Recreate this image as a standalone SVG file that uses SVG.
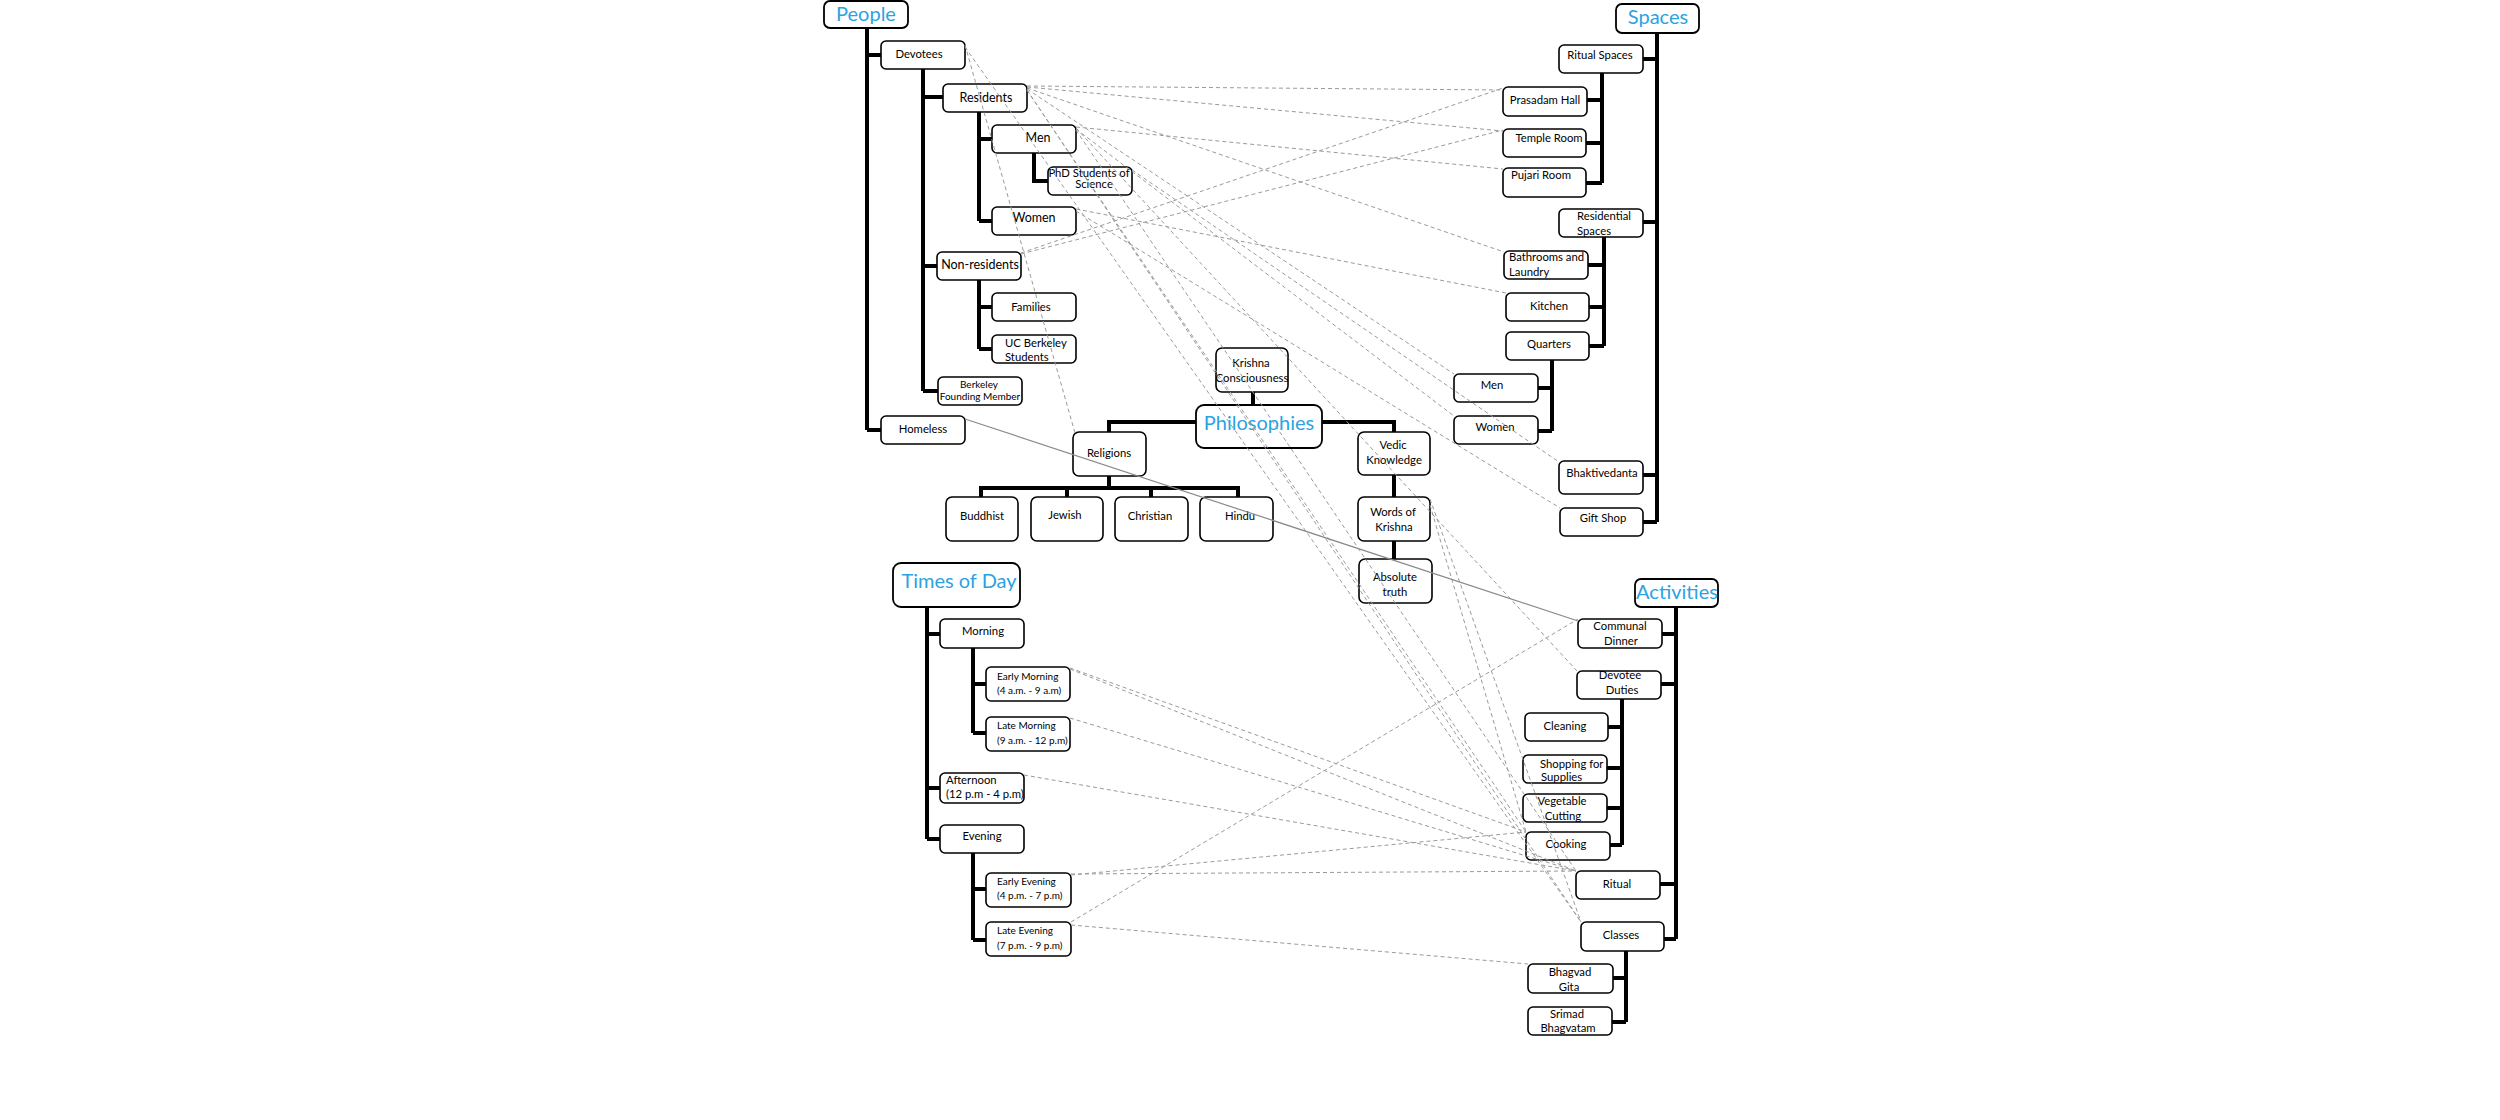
<svg xmlns="http://www.w3.org/2000/svg" width="2500" height="1120" viewBox="0 0 2500 1120">
<style>
.b{fill:#fff;stroke:#000;stroke-width:1.6}
.h{fill:#fff;stroke:#000;stroke-width:1.8}
text{font-family:Lato,"Open Sans","Liberation Sans",sans-serif;font-size:11.3px;fill:#000}
.c{text-anchor:middle}
.big{font-size:12.5px}
.sm{font-size:10px}
.hd{font-size:20px;fill:#2ba3e3;text-anchor:middle}
.t{stroke:#000;stroke-width:4;fill:none}
.d{stroke:#9a9a9a;stroke-width:1;stroke-dasharray:4 3;fill:none}
.s{stroke:#8a8a8a;stroke-width:1.2;fill:none}
</style>
<rect width="2500" height="1120" fill="#fff"/>
<g id="nodes">
<g id="people"><rect class="h" x="824" y="1" width="84" height="27" rx="6"/><text class="hd" x="866" y="21">People</text></g>
<g id="devotees"><rect class="b" x="881" y="41" width="84" height="28" rx="5"/><text class="c" x="919" y="58">Devotees</text></g>
<g id="residents"><rect class="b" x="943" y="84" width="84" height="28" rx="5"/><text class="c big" x="986" y="102">Residents</text></g>
<g id="men"><rect class="b" x="992" y="125" width="84" height="28" rx="5"/><text class="c big" x="1038" y="142">Men</text></g>
<g id="phd"><rect class="b" x="1048" y="167" width="84" height="28" rx="5"/><text class="c" x="1089" y="177">PhD Students of</text><text class="c" x="1094" y="188">Science</text></g>
<g id="women"><rect class="b" x="992" y="207" width="84" height="28" rx="5"/><text class="c big" x="1034" y="222">Women</text></g>
<g id="nonresidents"><rect class="b" x="937" y="252" width="84" height="28" rx="5"/><text class="c big" x="980" y="269">Non-residents</text></g>
<g id="families"><rect class="b" x="992" y="293" width="84" height="28" rx="5"/><text class="c" x="1031" y="311">Families</text></g>
<g id="ucb"><rect class="b" x="992" y="335" width="84" height="28" rx="5"/><text x="1005" y="347">UC Berkeley</text><text x="1005" y="361">Students</text></g>
<g id="bfm"><rect class="b" x="938" y="377" width="84" height="28" rx="5"/><text class="c sm" x="979" y="388">Berkeley</text><text class="c sm" x="980" y="400">Founding Member</text></g>
<g id="homeless"><rect class="b" x="881" y="416" width="84" height="28" rx="5"/><text class="c" x="923" y="433">Homeless</text></g>

<g id="krishna"><rect class="b" x="1216" y="348" width="72" height="44" rx="6"/><text class="c" x="1251" y="367">Krishna</text><text class="c" x="1252" y="382">Consciousness</text></g>
<g id="philosophies"><rect class="h" x="1196" y="405" width="126" height="43" rx="8"/><text class="hd" x="1259" y="430">Philosophies</text></g>
<g id="religions"><rect class="b" x="1073" y="432" width="73" height="44" rx="6"/><text class="c" x="1109" y="457">Religions</text></g>
<g id="buddhist"><rect class="b" x="946" y="497" width="72" height="44" rx="6"/><text class="c" x="982" y="520">Buddhist</text></g>
<g id="jewish"><rect class="b" x="1031" y="497" width="72" height="44" rx="6"/><text class="c" x="1065" y="519">Jewish</text></g>
<g id="christian"><rect class="b" x="1115" y="497" width="73" height="44" rx="6"/><text class="c" x="1150" y="520">Christian</text></g>
<g id="hindu"><rect class="b" x="1200" y="497" width="73" height="44" rx="6"/><text class="c" x="1240" y="520">Hindu</text></g>
<g id="vedic"><rect class="b" x="1358" y="432" width="72" height="43" rx="6"/><text class="c" x="1393" y="449">Vedic</text><text class="c" x="1394" y="464">Knowledge</text></g>
<g id="words"><rect class="b" x="1358" y="497" width="72" height="44" rx="6"/><text class="c" x="1393" y="516">Words of</text><text class="c" x="1394" y="531">Krishna</text></g>
<g id="absolute"><rect class="b" x="1359" y="559" width="73" height="44" rx="6"/><text class="c" x="1395" y="581">Absolute</text><text class="c" x="1395" y="596">truth</text></g>

<g id="spaces"><rect class="h" x="1616" y="4" width="83" height="29" rx="6"/><text class="hd" x="1658" y="24">Spaces</text></g>
<g id="ritualspaces"><rect class="b" x="1559" y="45" width="84" height="28" rx="5"/><text class="c" x="1600" y="59">Ritual Spaces</text></g>
<g id="prasadam"><rect class="b" x="1503" y="87" width="84" height="29" rx="5"/><text class="c" x="1545" y="104">Prasadam Hall</text></g>
<g id="temple"><rect class="b" x="1503" y="129" width="83" height="28" rx="5"/><text class="c" x="1549" y="142">Temple Room</text></g>
<g id="pujari"><rect class="b" x="1503" y="168" width="83" height="29" rx="5"/><text class="c" x="1541" y="179">Pujari Room</text></g>
<g id="residential"><rect class="b" x="1559" y="209" width="84" height="28" rx="5"/><text x="1577" y="220">Residential</text><text x="1577" y="235">Spaces</text></g>
<g id="bathrooms"><rect class="b" x="1504" y="251" width="84" height="28" rx="5"/><text x="1509" y="261">Bathrooms and</text><text x="1509" y="276">Laundry</text></g>
<g id="kitchen"><rect class="b" x="1506" y="293" width="83" height="28" rx="5"/><text class="c" x="1549" y="310">Kitchen</text></g>
<g id="quarters"><rect class="b" x="1506" y="332" width="83" height="28" rx="5"/><text class="c" x="1549" y="348">Quarters</text></g>
<g id="qmen"><rect class="b" x="1454" y="374" width="84" height="28" rx="5"/><text class="c" x="1492" y="389">Men</text></g>
<g id="qwomen"><rect class="b" x="1454" y="416" width="84" height="28" rx="5"/><text class="c" x="1495" y="431">Women</text></g>
<g id="bhaktivedanta"><rect class="b" x="1559" y="461" width="84" height="33" rx="5"/><text class="c" x="1602" y="477">Bhaktivedanta</text></g>
<g id="giftshop"><rect class="b" x="1560" y="508" width="83" height="28" rx="5"/><text class="c" x="1603" y="522">Gift Shop</text></g>

<g id="times"><rect class="h" x="893" y="563" width="127" height="44" rx="8"/><text class="hd" x="959" y="588">Times of Day</text></g>
<g id="morning"><rect class="b" x="940" y="619" width="84" height="29" rx="5"/><text class="c" x="983" y="635">Morning</text></g>
<g id="earlymorning"><rect class="b" x="986" y="667" width="84" height="34" rx="5"/><text class="sm" x="997" y="680">Early Morning</text><text class="sm" x="997" y="694">(4 a.m. - 9 a.m)</text></g>
<g id="latemorning"><rect class="b" x="986" y="717" width="84" height="34" rx="5"/><text class="sm" x="997" y="729">Late Morning</text><text class="sm" x="997" y="744">(9 a.m. - 12 p.m)</text></g>
<g id="afternoon"><rect class="b" x="940" y="773" width="84" height="30" rx="5"/><text x="946" y="784">Afternoon</text><text x="946" y="798">(12 p.m - 4 p.m)</text></g>
<g id="evening"><rect class="b" x="940" y="825" width="84" height="28" rx="5"/><text class="c" x="982" y="840">Evening</text></g>
<g id="earlyevening"><rect class="b" x="986" y="873" width="85" height="34" rx="5"/><text class="sm" x="997" y="885">Early Evening</text><text class="sm" x="997" y="899">(4 p.m. - 7 p.m)</text></g>
<g id="lateevening"><rect class="b" x="986" y="922" width="85" height="34" rx="5"/><text class="sm" x="997" y="934">Late Evening</text><text class="sm" x="997" y="949">(7 p.m. - 9 p.m)</text></g>

<g id="activities"><rect class="h" x="1635" y="579" width="83" height="28" rx="6"/><text class="hd" x="1677" y="599">Activities</text></g>
<g id="communal"><rect class="b" x="1578" y="619" width="84" height="29" rx="5"/><text class="c" x="1620" y="630">Communal</text><text class="c" x="1621" y="645">Dinner</text></g>
<g id="duties"><rect class="b" x="1577" y="671" width="84" height="28" rx="5"/><text class="c" x="1620" y="679">Devotee</text><text class="c" x="1622" y="694">Duties</text></g>
<g id="cleaning"><rect class="b" x="1525" y="713" width="83" height="28" rx="5"/><text class="c" x="1565" y="730">Cleaning</text></g>
<g id="shopping"><rect class="b" x="1523" y="755" width="84" height="28" rx="5"/><text x="1540" y="768">Shopping for</text><text x="1541" y="781">Supplies</text></g>
<g id="vegetable"><rect class="b" x="1523" y="794" width="84" height="28" rx="5"/><text class="c" x="1562" y="805">Vegetable</text><text class="c" x="1563" y="820">Cutting</text></g>
<g id="cooking"><rect class="b" x="1526" y="832" width="84" height="28" rx="5"/><text class="c" x="1566" y="848">Cooking</text></g>
<g id="ritual"><rect class="b" x="1576" y="871" width="84" height="28" rx="5"/><text class="c" x="1617" y="888">Ritual</text></g>
<g id="classes"><rect class="b" x="1581" y="922" width="83" height="29" rx="5"/><text class="c" x="1621" y="939">Classes</text></g>
<g id="gita"><rect class="b" x="1528" y="964" width="85" height="29" rx="5"/><text class="c" x="1570" y="976">Bhagvad</text><text class="c" x="1569" y="991">Gita</text></g>
<g id="srimad"><rect class="b" x="1528" y="1007" width="84" height="28" rx="5"/><text class="c" x="1567" y="1018">Srimad</text><text class="c" x="1568" y="1032">Bhagvatam</text></g>
</g>

<g id="connectors">
<g id="tree">
<path class="t" d="M867 28V430M867 55H881M867 430H881"/>
<path class="t" d="M923 69V391M923 97H943M923 266H937M923 391H938"/>
<path class="t" d="M979 112V221M979 139H992M979 221H992"/>
<path class="t" d="M1034 153V181H1048"/>
<path class="t" d="M979 280V349M979 307H992M979 349H992"/>
<path class="t" d="M1657 33V522M1643 59H1657M1643 222H1657M1643 475H1657M1643 522H1657"/>
<path class="t" d="M1602 73V183M1587 100H1602M1586 143H1602M1586 183H1602"/>
<path class="t" d="M1604 237V346M1588 265H1604M1589 307H1604M1589 346H1604"/>
<path class="t" d="M1552 360V431M1538 388H1552M1538 431H1552"/>
<path class="t" d="M1253 392V405"/>
<path class="t" d="M1196 422H1109V432M1322 422H1394V432"/>
<path class="t" d="M1109 476V488M981 497V488H1238V497M1067 488V497M1151 488V497"/>
<path class="t" d="M1394 475V497M1394 541V559"/>
<path class="t" d="M927 607V839M927 634H940M927 788H940M927 839H940"/>
<path class="t" d="M973 648V733M973 684H986M973 733H986"/>
<path class="t" d="M973 853V940M973 889H986M973 940H986"/>
<path class="t" d="M1676 607V939M1662 634H1676M1661 684H1676M1660 884H1676M1664 939H1676"/>
<path class="t" d="M1622 699V845M1608 727H1622M1607 768H1622M1607 808H1622M1610 845H1622"/>
<path class="t" d="M1626 951V1022M1613 978H1626M1612 1022H1626"/>
</g>
<g id="links">
<path class="d" d="M965 45L1075 433"/>
<path class="d" d="M965 47L1581 922"/>
<path class="d" d="M1027 86L1503 90"/>
<path class="d" d="M1027 87L1503 131"/>
<path class="d" d="M1027 88L1504 252"/>
<path class="d" d="M1027 89L1454 374"/>
<path class="d" d="M1027 90L1526 832"/>
<path class="d" d="M1027 90L1581 922"/>
<path class="d" d="M1076 127L1503 169"/>
<path class="d" d="M1076 128L1577 671"/>
<path class="d" d="M1076 129L1454 416"/>
<path class="d" d="M1076 130L1576 871"/>
<path class="d" d="M1132 170L1559 462"/>
<path class="d" d="M1076 209L1506 293"/>
<path class="d" d="M1076 211L1560 508"/>
<path class="d" d="M1021 253L1503 88"/>
<path class="d" d="M1021 254L1503 130"/>
<path class="d" d="M1430 499L1581 922"/>
<path class="d" d="M1430 505L1526 832"/>
<path class="d" d="M1070 668L1526 832"/>
<path class="d" d="M1070 669L1576 871"/>
<path class="d" d="M1070 718L1576 871"/>
<path class="d" d="M1024 775L1576 871"/>
<path class="d" d="M1071 875L1526 832"/>
<path class="d" d="M1071 874L1576 871"/>
<path class="d" d="M1071 922L1578 619"/>
<path class="d" d="M1071 925L1528 964"/>
<path class="s" d="M965 419L1578 621"/>
</g>
</g>
</svg>
